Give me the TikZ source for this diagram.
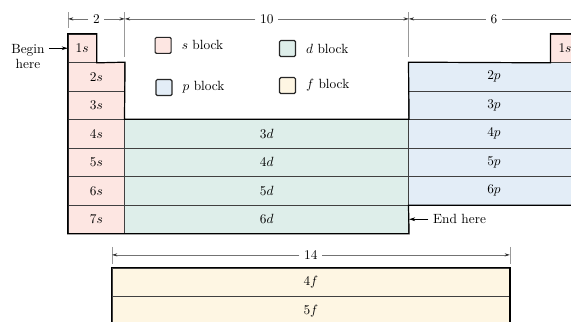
\documentclass[tikz,border=0pt]{standalone}
\usetikzlibrary{positioning,arrows.meta}
\usepackage{xcolor}
\definecolor{sfill}{HTML}{FDE6E2}
\definecolor{dfill}{HTML}{DEEEEA}
\definecolor{pfill}{HTML}{E3EDF7}
\definecolor{ffill}{HTML}{FEF6E3}

\begin{document}
\begin{tikzpicture}[x=21.3pt, y=21.375pt]
      \tikzstyle{cell} = [rectangle, draw=black!75, line width=0.5pt, inner sep=0, minimum height=21.375pt]
      \tikzstyle{scell} = [cell, fill=sfill, minimum width=42.6pt]
      \tikzstyle{dcell} = [cell, fill=dfill, minimum width=213pt]
      \tikzstyle{pcell} = [cell, fill=pfill, minimum width=127.8pt]
      \tikzstyle{fcell} = [cell, fill=ffill, minimum width=298.2pt]
      \tikzstyle{outline} = [draw=black, line width=0.9pt, line join=miter]
      \tikzstyle{keybox} = [rectangle, draw=black!85, line width=0.9pt, rounded corners=1pt, minimum size=12pt, inner sep=0]
      \tikzstyle{tick} = [draw=black!40, line width=0.5pt]
      \tikzstyle{dimline} = [draw=black!55, line width=0.45pt, -{Stealth[length=4pt, width=2.4pt, black!80]}]
      \tikzstyle{pointer} = [draw=black, line width=0.5pt, -{Stealth[length=4.5pt, width=2.8pt]}]

      \clip (-2.394,1.193) rectangle (17.711,-10.105);

      % s, p and d blocks
      \node[scell, minimum width=21.3pt] (s1) at (0.5,-0.5) {1$s$};
      \foreach \n in {2,...,7}
        \node[scell] (s\n) at (1,{-\n+0.5}) {\n$s$};
      \foreach \n in {3,...,6}
        \node[dcell] (d\n) at (7,{-\n-0.5}) {\n$d$};
      \foreach \n in {2,...,6}
        \node[pcell] (p\n) at (15,{-\n+0.5}) {\n$p$};
      \node[scell, minimum width=21.3pt] (he) at (17.5,-0.5) {1$s$};

      \path[outline] (s1.north west) -- (s1.north east) -- (s1.south east) -- (s2.north east)
        -- (d3.north west) -- (d3.north east) -- (p2.north west) -- (he.south west)
        -- (he.north west) -- (he.north east) -- (p6.south east) -- (p6.south west)
        -- (d6.south east) -- (s7.south west) -- cycle;

      % f block
      \node[fcell] (f4) at (8.55,-8.71) {4$f$};
      \node[fcell] (f5) at (8.55,-9.71) {5$f$};
      \path[outline] (f5.south west) |- (f4.north east) -- (f5.south east);

      % legend
      \node[keybox, fill=sfill] (ks) at (3.35,-0.40) {};
      \node[keybox, fill=pfill] (kp) at (3.38,-1.88) {};
      \node[keybox, fill=dfill] (kd) at (7.73,-0.51) {};
      \node[keybox, fill=ffill] (kf) at (7.73,-1.81) {};
      \node[right=4pt of ks] (ksl) {$s$ block};
      \node[right=4pt of kp] (kpl) {$p$ block};
      \node[right=4pt of kd] (kdl) {$d$ block};
      \node[right=4pt of kf] (kfl) {$f$ block};

      % widths
      \draw[tick] (0,0.77) -- (0,0.21);
      \draw[tick] (2,0.77) -- (2,-0.81);
      \draw[tick] (12,0.77) -- (12,-0.81);
      \draw[tick] (1.55,-7.47) -- (1.55,-8.07);
      \draw[tick] (15.56,-7.47) -- (15.56,-8.07);
      \coordinate (a0) at (0,0.53);
      \coordinate (a2) at (2,0.53);
      \coordinate (a12) at (12,0.53);
      \coordinate (a18) at (18,0.53);
      \coordinate (b0) at (1.55,-7.75);
      \coordinate (b14) at (15.56,-7.75);
      \node (w2) at (1,0.53) {2};
      \node (w10) at (7,0.53) {10};
      \node (w6) at (15,0.53) {6};
      \node (w14) at (8.55,-7.75) {14};
      \draw[dimline] (w2) -- (a0);
      \draw[dimline] (w2) -- (a2);
      \draw[dimline] (w10) -- (a2);
      \draw[dimline] (w10) -- (a12);
      \draw[dimline] (w6) -- (a12);
      \draw[dimline] (w6) -- (a18);
      \draw[dimline] (w14) -- (b0);
      \draw[dimline] (w14) -- (b14);

      % start and end
      \node[align=center, inner sep=3pt] (begin) at (-1.41,-0.79) {Begin\\[-1pt]here};
      \draw[pointer] (s1.west -| begin.east) -- (s1.west);
      \node[anchor=west] (finish) at (12.69,-6.5) {End here};
      \draw[pointer] (finish.west) -- (d6.east);
\end{tikzpicture}
\end{document}
